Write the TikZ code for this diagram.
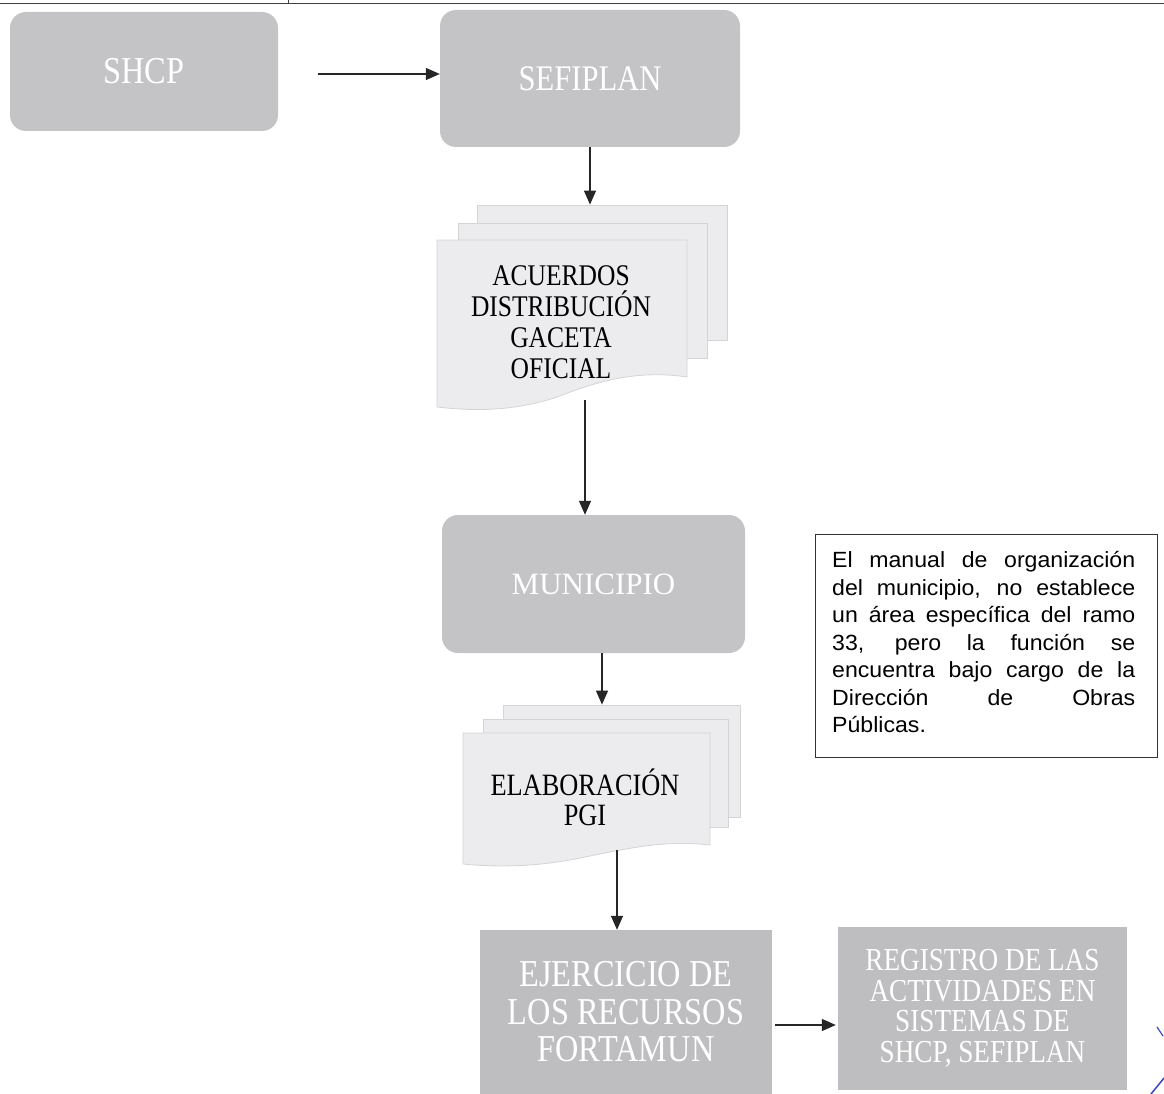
\documentclass[tikz,border=0pt]{standalone}
\usepackage{fontspec}
\setmainfont{Liberation Serif}
\newfontfamily\tnr[FakeStretch=0.85]{Liberation Serif}
\newfontfamily\tnrn{Liberation Serif}
\newfontfamily\arl[FakeStretch=1.05]{Liberation Sans}
\usetikzlibrary{arrows.meta}
\definecolor{boxgray}{RGB}{196,196,199}
\definecolor{boxgrayb}{RGB}{190,190,192}
\definecolor{pagefill}{RGB}{236,236,238}
\definecolor{pageline}{RGB}{212,212,214}
\definecolor{inkblue}{RGB}{60,70,190}
\tikzset{
  grbox/.style={fill=boxgray, draw=none, text=white, align=center, inner sep=0pt},
  pagebox/.style={fill=pagefill, draw=pageline, line width=0.8pt, inner sep=0pt},
  doctext/.style={text=black, align=center, inner sep=0pt},
  arr/.style={draw=black!85, line width=1.3pt, -{Triangle[length=14pt,width=12pt]}},
}
\begin{document}
\begin{tikzpicture}[x=1pt,y=-1pt]
\useasboundingbox (0,0) rectangle (1164,1094);
% top rule
\draw[black!75, line width=1pt] (0,4) coordinate (tl) -- (1164,4) coordinate (tr);
\draw[black!75, line width=1pt] (288,0) coordinate (tk1) -- (288,4) coordinate (tk2);

% gray boxes
\node[grbox, rounded corners=16pt, minimum width=268pt, minimum height=119pt,
  font={\tnr\fontsize{38}{40}\selectfont}] (shcp) at (144,71.5) {SHCP};
\node[grbox, rounded corners=16pt, minimum width=300pt, minimum height=137pt,
  font={\tnr\fontsize{36}{40}\selectfont}] (sefiplan) at (590,78.5) {SEFIPLAN};
\node[grbox, rounded corners=16pt, minimum width=303pt, minimum height=138pt,
  font={\tnrn\fontsize{31}{34}\selectfont}] (municipio) at (593.5,584) {MUNICIPIO};
\node[grbox, fill=boxgrayb, minimum width=292pt, minimum height=164pt,
  font={\tnr\fontsize{38}{37.5}\selectfont}] (ejercicio) at (626,1012)
  {EJERCICIO DE\\LOS RECURSOS\\FORTAMUN};
\node[grbox, fill=boxgrayb, minimum width=289pt, minimum height=163pt,
  font={\tnr\fontsize{32}{30.7}\selectfont}] (registro) at (982.5,1008.5)
  {REGISTRO DE LAS\\ACTIVIDADES EN\\SISTEMAS DE\\SHCP, SEFIPLAN};

% ACUERDOS document stack
\node[pagebox, minimum width=250pt, minimum height=135pt] (acu3) at (602,272.5) {};
\node[pagebox, minimum width=249pt, minimum height=135pt] (acu2) at (582.5,290.5) {};
\draw[pagebox] (437,240) -- (687,240) -- (687,377)
  .. controls (640,370) and (600,380) .. (560,396)
  .. controls (520,410) and (480,412) .. (437,407) -- cycle;
\node[doctext, font={\tnr\fontsize{30}{31}\selectfont}] (acu1) at (561,322)
  {ACUERDOS\\DISTRIBUCIÓN\\GACETA\\OFICIAL};
\coordinate (acubot) at (585,400);

% ELABORACION document stack
\node[pagebox, minimum width=237pt, minimum height=112pt] (ela3) at (621.5,761) {};
\node[pagebox, minimum width=245pt, minimum height=108pt] (ela2) at (605.5,773) {};
\draw[pagebox] (463,733) -- (710,733) -- (710,845)
  .. controls (665,840) and (630,848) .. (590,856)
  .. controls (545,866) and (505,868) .. (463,864) -- cycle;
\node[doctext, font={\tnr\fontsize{31}{30}\selectfont}] (ela1) at (585,797)
  {ELABORACIÓN\\PGI};
\coordinate (elabot) at (617,850);

% note box
\node[draw=black!80, line width=0.9pt, fill=white, minimum width=342pt, minimum height=223pt,
  inner sep=0pt] (note) at (986,645.5) {};
\node[text width=303pt, align=justify, inner sep=0pt, anchor=north west,
  font={\arl\fontsize{22}{27.5}\selectfont}] (notetext) at (832,551.5)
  {\hyphenpenalty=10000\exhyphenpenalty=10000
   El manual de organización\linebreak del municipio, no establece\linebreak
   un área específica del ramo\linebreak 33, pero la función se\linebreak
   encuentra bajo cargo de la\linebreak Dirección de Obras\linebreak Públicas.};

% connectors
\draw[arr] ([xshift=40pt]shcp.east |- 0,74) coordinate (a1s) -- (sefiplan.west |- a1s);
\draw[arr] (sefiplan.south) -- (sefiplan.south |- acu3.north);
\draw[arr] (acubot) -- (acubot |- municipio.north);
\coordinate (m2) at (602,653);
\draw[arr] (m2) -- (m2 |- ela3.north);
\draw[arr] (elabot) -- (elabot |- ejercicio.north);
\draw[arr] ([xshift=3pt]ejercicio.east |- 0,1025) coordinate (a5s) -- ([xshift=-2pt]registro.west |- a5s);

% pen marks
\draw[inkblue, line width=1.2pt, line cap=round] (1157,1027) coordinate (p1) -- (1163,1036) coordinate (p2);
\draw[inkblue, line width=1.5pt, line cap=round] (1151,1094) coordinate (p3) -- (1164,1078) coordinate (p4);
\end{tikzpicture}
\end{document}
